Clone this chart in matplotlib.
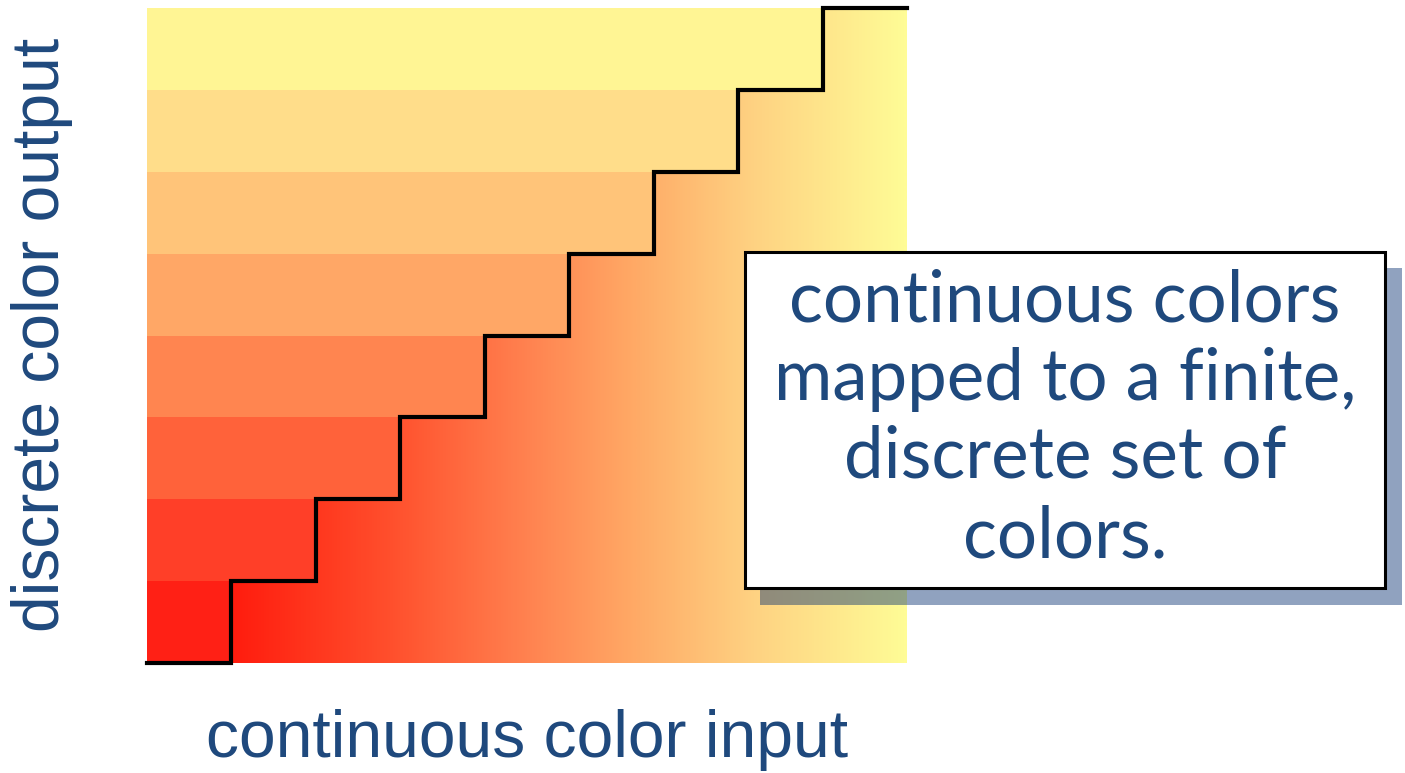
import numpy as np
import matplotlib
matplotlib.use("Agg")
import matplotlib.pyplot as plt
from matplotlib.colors import LinearSegmentedColormap, Normalize
from matplotlib.patches import Rectangle

# ---------------- data ----------------
n_levels = 8                      # discrete output bands
step_x = list(range(0, 10))       # column edges 0..9
step_level = [0, 1, 2, 3, 4, 5, 6, 7, 8, 8]   # staircase level per column (post-step)
band_colors = ["#ff2015", "#ff3f28", "#ff623a", "#ff8550",
               "#ffa766", "#ffc479", "#ffdd8a", "#fff594"]
band_extent = [1, 2, 3, 4, 5, 6, 7, 8]   # discrete band reaches this column edge
grad_pos = [1.0, 2.9, 4.5, 5.8, 7.2, 9.0]
grad_colors = ["#ff1c0e", "#ff502d", "#ff8250", "#ffaa66", "#fed282", "#fffc96"]
box_lines = ["continuous colors", "mapped to a finite,", "discrete set of", "colors."]
xlabel = "continuous color input"
ylabel = "discrete color output"

TXT = "#1f497d"
W, H = 1405, 773
fig = plt.figure(figsize=(W / 100, H / 100), dpi=100)

def fx(px): return px / W
def fy(py): return 1 - py / H

ax = fig.add_axes([fx(147), fy(663), fx(907) - fx(147), fy(8) - fy(663)])
ax.set_xlim(0, 9)
ax.set_ylim(0, n_levels)
ax.axis("off")

# continuous gradient
lo, hi = grad_pos[0], grad_pos[-1]
cmap = LinearSegmentedColormap.from_list(
    "grad", [((p - lo) / (hi - lo), c) for p, c in zip(grad_pos, grad_colors)])
xs = np.linspace(0, 9, 900)
ax.imshow(xs[None, :], cmap=cmap, norm=Normalize(lo, hi), aspect="auto",
          extent=[0, 9, 0, n_levels], origin="lower", interpolation="bilinear", zorder=1)

# discrete bands
for j, (c, e) in enumerate(zip(band_colors, band_extent)):
    ax.barh(j + 0.5, e, height=1.0, left=0, color=c, edgecolor="none", zorder=2)

# staircase
ax.step(step_x, step_level, where="post", color="black", lw=3.0, zorder=3,
        clip_on=False, solid_joinstyle="miter")

# labels
fig.text(fx(527), fy(740), xlabel, ha="center", va="center", fontsize=47.5,
         family="Liberation Sans", color=TXT)
fig.text(fx(42), fy(335), ylabel, ha="center", va="center", rotation=90,
         fontsize=47.5, family="Liberation Sans", color=TXT)

# text box with shadow
shadow = Rectangle((fx(760), fy(605)), fx(1402) - fx(760), fy(268) - fy(605),
                   transform=fig.transFigure, facecolor="#0a3272", alpha=0.45,
                   edgecolor="none", zorder=5)
box = Rectangle((fx(745), fy(588)), fx(1385) - fx(745), fy(252) - fy(588),
                transform=fig.transFigure, facecolor="white", edgecolor="black",
                lw=2.2, zorder=6)
fig.patches.extend([shadow, box])

baselines = [322, 400, 478, 557]
texts = []
for line, b in zip(box_lines, baselines):
    t = fig.text(fx(1065), fy(b), line, ha="center", va="baseline",
                 fontsize=50, family="Lato", color=TXT, zorder=7)
    texts.append(t)

fig.canvas.draw()
r = fig.canvas.get_renderer()
w0 = texts[0].get_window_extent(r).width
scale = 550.0 / w0
for t in texts:
    t.set_fontsize(50 * scale)

fig.savefig("out.png", dpi=100)
